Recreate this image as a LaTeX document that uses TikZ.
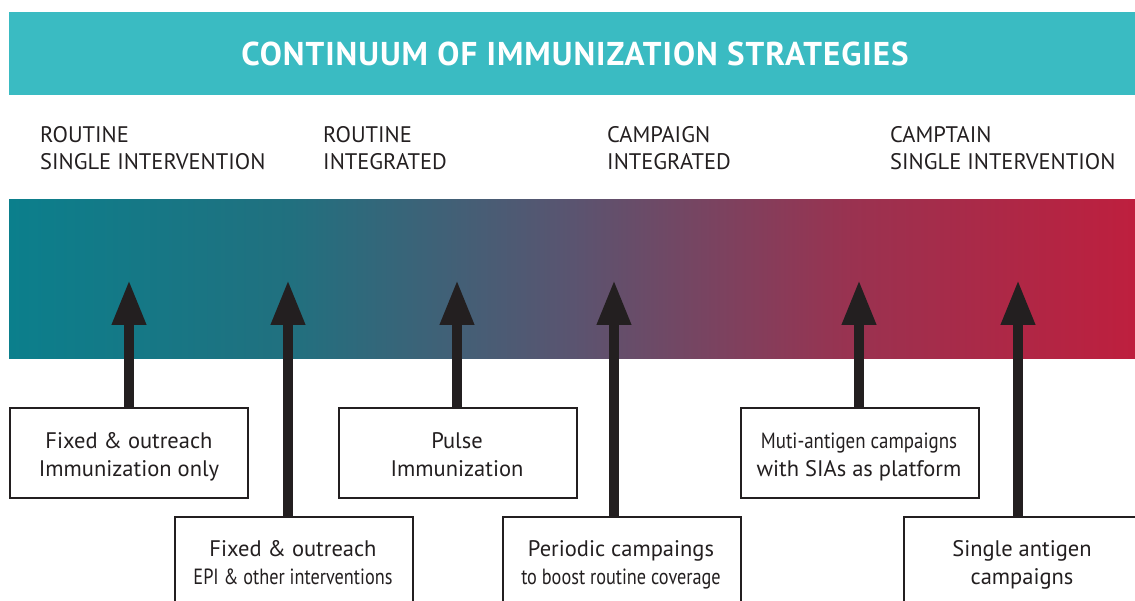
\documentclass[tikz,border=0pt]{standalone}
\usepackage{fontspec}
\setmainfont{PT Sans}
\newfontfamily\condfont[FakeStretch=0.83]{PT Sans}
\newfontfamily\semicondfont[FakeStretch=0.86]{PT Sans}
\newfontfamily\titlefont[LetterSpace=3]{PT Sans}
\usetikzlibrary{arrows.meta}
\definecolor{ink}{HTML}{231F20}
\definecolor{headteal}{HTML}{3ABBC2}
\definecolor{g0}{RGB}{11,127,140}
\definecolor{g1}{RGB}{33,112,127}
\definecolor{g2}{RGB}{90,84,112}
\definecolor{g3}{RGB}{154,50,80}
\definecolor{g4}{RGB}{190,31,62}
\pgfdeclarehorizontalshading{contgrad}{100bp}{color(0bp)=(g0); color(25bp)=(g0); color(37.5bp)=(g1); color(50bp)=(g2); color(62.5bp)=(g3); color(75bp)=(g4); color(100bp)=(g4)}
\begin{document}
\begin{tikzpicture}[x=1pt,y=-1pt,
  box/.style={draw=ink, line width=2pt, fill=white, minimum width=238pt, minimum height=90pt, inner sep=0pt, anchor=north west},
  boxtext/.style={font=\fontsize{22.5}{26}\selectfont, text=ink, anchor=base, inner sep=0pt},
  condtext/.style={font=\condfont\fontsize{22}{26}\selectfont, text=ink, anchor=base, inner sep=0pt},
  semicondtext/.style={font=\semicondfont\fontsize{22}{26}\selectfont, text=ink, anchor=base, inner sep=0pt},
  lab/.style={font=\fontsize{22.5}{27}\selectfont, text=ink, anchor=base west, inner sep=0pt},
  uparrow/.style={draw=ink, line width=10pt, -{Triangle[length=45pt,width=32pt]}}]
\useasboundingbox (0,0) rectangle (1135,601);
\clip (0,0) rectangle (1135,601);
% header
\node[fill=headteal, minimum width=1126pt, minimum height=83pt, inner sep=0pt, anchor=north west] (header) at (9,12) {};
\node[font=\titlefont\bfseries\fontsize{33}{36}\selectfont, text=white, anchor=base, inner sep=0pt] (title) at (575,66) {CONTINUUM OF IMMUNIZATION STRATEGIES};
% labels
\node[lab] (l1a) at (40,143) {ROUTINE};
\node[lab] (l1b) at (40,170) {SINGLE INTERVENTION};
\node[lab] (l2a) at (323,143) {ROUTINE};
\node[lab] (l2b) at (323,170) {INTEGRATED};
\node[lab] (l3a) at (607,143) {CAMPAIGN};
\node[lab] (l3b) at (607,170) {INTEGRATED};
\node[lab] (l4a) at (890,143) {CAMPTAIN};
\node[lab] (l4b) at (890,170) {SINGLE INTERVENTION};
% gradient bar
\path[shading=contgrad] (9,200) rectangle (1135,359);
% boxes
\node[box] (b1) at (9,407) {};
\node[box] (b2) at (174,516) {};
\node[box] (b3) at (338,407) {};
\node[box] (b4) at (502,516) {};
\node[box] (b5) at (740,407) {};
\node[box] (b6) at (903,516) {};
% arrow tips
\coordinate (t1) at (129,280);
\coordinate (t2) at (288,280);
\coordinate (t3) at (457,280);
\coordinate (t4) at (614,280);
\coordinate (t5) at (859,280);
\coordinate (t6) at (1018,280);
\draw[uparrow] (b1.north -| t1) -- (t1);
\draw[uparrow] (b2.north -| t2) -- (t2);
\draw[uparrow] (b3.north -| t3) -- (t3);
\draw[uparrow] (b4.north -| t4) -- (t4);
\draw[uparrow] (b5.north -| t5) -- (t5);
\draw[uparrow] (b6.north -| t6) -- (t6);
% box texts
\node[boxtext] (x1a) at (129,448) {Fixed \& outreach};
\node[boxtext] (x1b) at (129,476) {Immunization only};
\node[boxtext] (x2a) at (293,556) {Fixed \& outreach};
\node[condtext] (x2b) at (293,584) {EPI \& other interventions};
\node[boxtext] (x3a) at (457,448) {Pulse};
\node[boxtext] (x3b) at (457,476) {Immunization};
\node[boxtext] (x4a) at (621,556) {Periodic campaings};
\node[condtext] (x4b) at (621,584) {to boost routine coverage};
\node[semicondtext] (x5a) at (859,448) {Muti-antigen campaigns};
\node[boxtext] (x5b) at (859,476) {with SIAs as platform};
\node[boxtext] (x6a) at (1022,556) {Single antigen};
\node[boxtext] (x6b) at (1022,584) {campaigns};
\end{tikzpicture}
\end{document}
